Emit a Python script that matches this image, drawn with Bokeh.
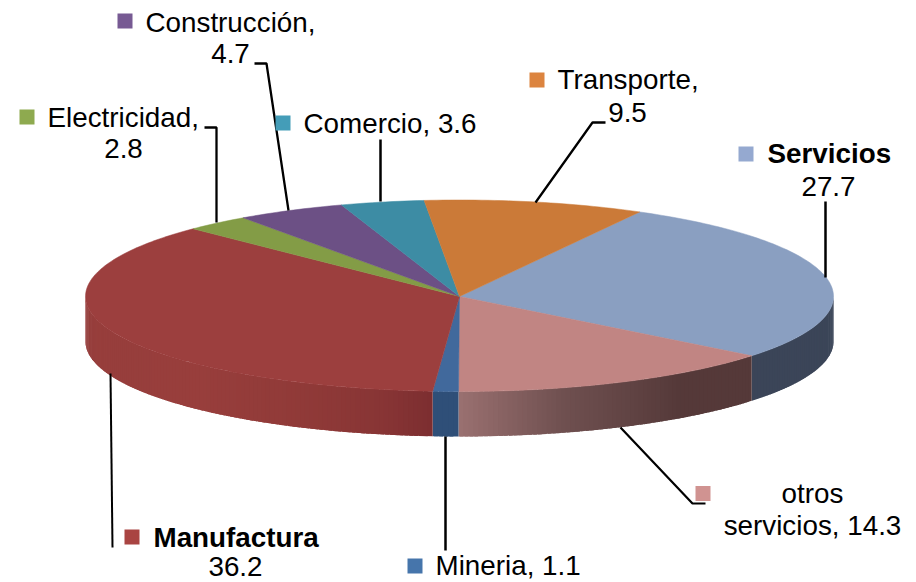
import numpy as np
from bokeh.plotting import figure
from bokeh.models import Range1d
from bokeh.core.properties import value
from bokeh.embed import file_html
from bokeh.resources import INLINE

# ---- data ----
categories = ["Servicios", "otros servicios", "Mineria", "Manufactura",
              "Electricidad", "Construcción", "Comercio", "Transporte"]
values = [27.7, 14.3, 1.1, 36.2, 2.8, 4.7, 3.6, 9.5]

# ---- styles ----
top_colors = ["#8a9fc1", "#c18583", "#41699c", "#9c3f3e",
              "#839c46", "#6c5085", "#3d8ca4", "#cb7a38"]
swatch_colors = ["#95a9d0", "#d09391", "#4675ab", "#a94442",
                 "#8eaa4f", "#775a93", "#449db8", "#dc843f"]
# wall shading: (angle from top, clockwise) -> colour, per slice
wall_stops = {
    "Servicios": [(90, "#3b4558"), (129, "#3b4558")],
    "otros servicios": [(128, "#553939"), (144, "#553939"), (164, "#6f5050"), (180, "#9a7070")],
    "Mineria": [(180, "#2f4f78"), (184, "#2f4f78")],
    "Manufactura": [(184, "#7c2e30"), (192, "#883535"), (205, "#903a38"), (224, "#983e3c"), (270, "#963e3c")],
}

# ---- projection of the tilted pie (page pixels) ----
FIRST_ANGLE = 28.8
CX, CY = 459.0, 296.0
RX, RY_BACK, RY_FRONT, DEPTH = 374.0, 96.5, 95.0, 45.0
TEXT_DY = -10


def project(deg):
    a = np.radians(deg)
    c = np.cos(a)
    return CX + RX * np.sin(a), CY - np.where(c > 0, RY_BACK, RY_FRONT) * c


def hex_rgb(h):
    return [int(h[i:i + 2], 16) for i in (1, 3, 5)]


def wall_color(name, deg):
    stops = wall_stops[name]
    ang = [s[0] for s in stops]
    rgb = np.array([hex_rgb(s[1]) for s in stops], dtype=float)
    return "#%02x%02x%02x" % tuple(int(round(np.interp(deg, ang, rgb[:, i]))) for i in range(3))


shares = np.array(values) / sum(values) * 360.0
ends = FIRST_ANGLE + np.cumsum(shares)
starts = ends - shares

p = figure(width=916, height=582, output_backend="svg", toolbar_location=None,
           x_range=Range1d(0, 916), y_range=Range1d(582, 0),
           min_border=0, outline_line_color=None, background_fill_color="white")
p.axis.visible = False
p.grid.visible = False

# side wall: overlapping narrow strips, only the front half is visible
wx, wy, wc = [], [], []
for name, a0, a1 in zip(categories, starts, ends):
    if name not in wall_stops:
        continue
    lo, hi = max(a0, 90.0), min(a1, 270.0)
    if hi <= lo:
        continue
    edges = np.linspace(lo, hi, max(2, int((hi - lo) / 0.75) + 1))
    for e0, e1 in zip(edges[:-1], edges[1:]):
        e2 = min(hi, e1 + 0.6)
        x0, y0 = project(e0)
        x1, y1 = project(e2)
        wx.append([float(x0), float(x1), float(x1), float(x0)])
        wy.append([float(y0), float(y1), float(y1) + DEPTH, float(y0) + DEPTH])
        wc.append(wall_color(name, (e0 + e1) / 2))
p.patches(wx, wy, fill_color=wc, line_color=None)

# top face
tx, ty = [], []
for a0, a1 in zip(starts, ends):
    arc = np.linspace(a0, a1, max(3, int(a1 - a0) + 2))
    ax, ay = project(arc)
    tx.append([CX] + ax.tolist())
    ty.append([CY] + ay.tolist())
p.patches(tx, ty, fill_color=top_colors, line_color=top_colors, line_width=0.5)

# leader lines
leaders_x = [[825, 825], [620, 692, 705], [445, 445], [110, 112],
             [216, 216, 204], [288, 266, 254], [380, 380], [535, 592, 605]]
leaders_y = [[277, 201], [427, 503, 503], [436, 550], [373, 547],
             [222, 127, 127], [210, 63, 63], [201, 139], [202, 122, 122]]
p.multi_line(leaders_x, leaders_y, line_color="black",
             line_width=[2.5, 2.2, 2.5, 2, 2.3, 2.3, 2.5, 2.3])

# legend keys
key_x = [745.5, 702.5, 414.5, 131.5, 26.5, 124.5, 282.5, 536.5]
key_y = [153.5, 493, 565.5, 536.5, 116.5, 20.5, 122.5, 79.5]
p.rect(key_x, key_y, width=15, height=15, fill_color=swatch_colors, line_color=None)

FONT = value("Liberation Sans")
SIZE = "27.8px"


def labels(texts, xs, ys, align, style="normal"):
    p.text(xs, [y + TEXT_DY for y in ys], text=texts, text_font=FONT, text_font_size=SIZE,
           text_color="black", text_align=align, text_baseline="alphabetic",
           text_font_style=style)


labels(["Construcción,", "Electricidad,", "Comercio, 3.6", "Transporte,", "Mineria, 1.1"],
       [145, 47, 303, 557, 435], [32, 127, 133, 89, 575], "left")
labels(["Servicios", "Manufactura"], [767, 153], [163, 547], "left", "bold")
labels(["4.7", "2.8", "9.5", "27.7", "otros", "servicios, 14.3", "36.2"],
       [230, 123, 627, 828, 812, 812, 235], [63, 158, 122, 196, 503, 535, 576], "center")

html = file_html(p, INLINE)
open("out.html", "w").write(html)
